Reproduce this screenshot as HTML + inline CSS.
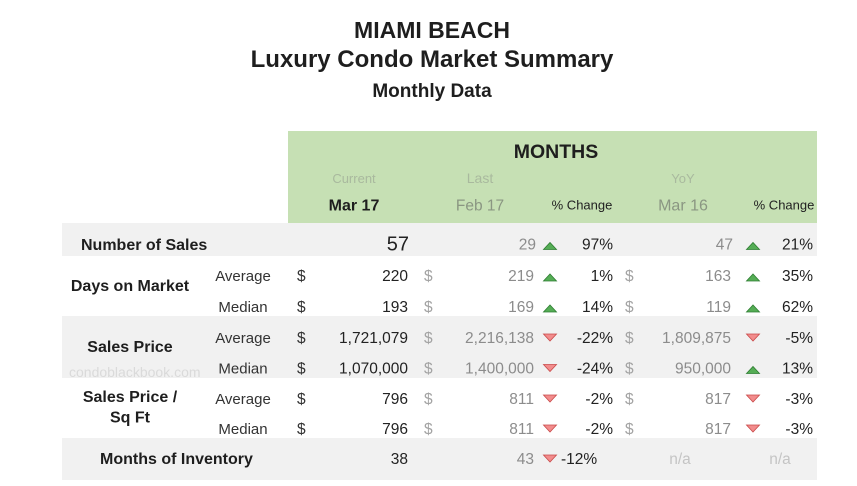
<!DOCTYPE html>
<html>
<head>
<meta charset="utf-8">
<style>
  html,body{margin:0;padding:0;background:#fff;}
  body{width:857px;height:486px;overflow:hidden;}
  svg{display:block;font-family:"Liberation Sans",Arial,sans-serif;}
  .b{font-weight:bold;fill:#1e1e1e;}
  .n{font-size:15.5px;fill:#222;}
  .g{font-size:15.5px;fill:#8c8c8c;}
  .d{font-size:15.5px;fill:#333;}
  .dg{font-size:15.5px;fill:#a3a3a3;}
  .s{font-size:15px;fill:#333;}
  .lbl{font-size:16px;font-weight:bold;fill:#1e1e1e;}
  .up{fill:#55ad55;stroke:#2e7d32;stroke-width:0.8;}
  .dn{fill:#f28c8c;stroke:#c94a4a;stroke-width:0.8;}
</style>
</head>
<body>
<svg width="857" height="486" viewBox="0 0 857 486" xmlns="http://www.w3.org/2000/svg">
  <!-- backgrounds -->
  <rect x="288" y="131" width="529" height="92" fill="#c6e0b4"/>
  <rect x="62" y="223" width="755" height="33" fill="#f1f1f1"/>
  <rect x="62" y="316" width="755" height="62" fill="#f1f1f1"/>
  <rect x="62" y="438" width="755" height="42" fill="#f1f1f1"/>

  <!-- titles -->
  <text x="432" y="38" text-anchor="middle" class="b" font-size="23">MIAMI BEACH</text>
  <text x="432" y="67" text-anchor="middle" class="b" font-size="24">Luxury Condo Market Summary</text>
  <text x="432" y="97" text-anchor="middle" class="b" font-size="19">Monthly Data</text>

  <!-- header -->
  <text x="556" y="158" text-anchor="middle" class="b" font-size="19.5">MONTHS</text>
  <text x="354" y="183" text-anchor="middle" font-size="13" fill="#a9b99e">Current</text>
  <text x="480" y="183" text-anchor="middle" font-size="14" fill="#a9b99e">Last</text>
  <text x="683" y="183" text-anchor="middle" font-size="13" fill="#a9b99e">YoY</text>
  <text x="354" y="210.5" text-anchor="middle" class="b" font-size="16">Mar 17</text>
  <text x="480" y="210.5" text-anchor="middle" font-size="15.5" fill="#8a9682">Feb 17</text>
  <text x="582" y="209.5" text-anchor="middle" font-size="13" fill="#222">% Change</text>
  <text x="683" y="210.5" text-anchor="middle" font-size="16" fill="#8a9682">Mar 16</text>
  <text x="784" y="209.5" text-anchor="middle" font-size="13" fill="#222">% Change</text>

  <!-- watermark -->
  <text x="69" y="377" font-size="14" fill="#dadada">condoblackbook.com</text>

  <!-- row labels -->
  <text x="81" y="250" class="lbl">Number of Sales</text>
  <text x="130" y="291" text-anchor="middle" class="lbl">Days on Market</text>
  <text x="130" y="352" text-anchor="middle" class="lbl">Sales Price</text>
  <text x="130" y="402" text-anchor="middle" class="lbl">Sales Price /</text>
  <text x="130" y="422.5" text-anchor="middle" class="lbl">Sq Ft</text>
  <text x="100" y="464" class="lbl">Months of Inventory</text>

  <!-- sub labels -->
  <text x="243" y="281" text-anchor="middle" class="s">Average</text>
  <text x="243" y="312" text-anchor="middle" class="s">Median</text>
  <text x="243" y="343" text-anchor="middle" class="s">Average</text>
  <text x="243" y="373.5" text-anchor="middle" class="s">Median</text>
  <text x="243" y="404" text-anchor="middle" class="s">Average</text>
  <text x="243" y="434" text-anchor="middle" class="s">Median</text>

  <!-- Row 0: Number of Sales -->
  <text x="409" y="250.5" text-anchor="end" font-size="20" fill="#222">57</text>
  <text x="536" y="249.5" text-anchor="end" class="g">29</text>
  <polygon class="up" points="543.5,249.5 556.5,249.5 550,242.5"/>
  <text x="613" y="249.5" text-anchor="end" class="n">97%</text>
  <text x="733" y="249.5" text-anchor="end" class="g">47</text>
  <polygon class="up" points="746.5,249.5 759.5,249.5 753,242.5"/>
  <text x="813" y="249.5" text-anchor="end" class="n">21%</text>

  <!-- Row 1: DOM Average -->
  <text x="297" y="281" class="d">$</text>
  <text x="408" y="281" text-anchor="end" class="n">220</text>
  <text x="424" y="281" class="dg">$</text>
  <text x="534" y="281" text-anchor="end" class="g">219</text>
  <polygon class="up" points="543.5,281 556.5,281 550,274"/>
  <text x="613" y="281" text-anchor="end" class="n">1%</text>
  <text x="625" y="281" class="dg">$</text>
  <text x="731" y="281" text-anchor="end" class="g">163</text>
  <polygon class="up" points="746.5,281 759.5,281 753,274"/>
  <text x="813" y="281" text-anchor="end" class="n">35%</text>

  <!-- Row 2: DOM Median -->
  <text x="297" y="312" class="d">$</text>
  <text x="408" y="312" text-anchor="end" class="n">193</text>
  <text x="424" y="312" class="dg">$</text>
  <text x="534" y="312" text-anchor="end" class="g">169</text>
  <polygon class="up" points="543.5,312 556.5,312 550,305"/>
  <text x="613" y="312" text-anchor="end" class="n">14%</text>
  <text x="625" y="312" class="dg">$</text>
  <text x="731" y="312" text-anchor="end" class="g">119</text>
  <polygon class="up" points="746.5,312 759.5,312 753,305"/>
  <text x="813" y="312" text-anchor="end" class="n">62%</text>

  <!-- Row 3: Sales Price Average -->
  <text x="297" y="343" class="d">$</text>
  <text x="408" y="343" text-anchor="end" class="n">1,721,079</text>
  <text x="424" y="343" class="dg">$</text>
  <text x="534" y="343" text-anchor="end" class="g">2,216,138</text>
  <polygon class="dn" points="543.5,334 556.5,334 550,341"/>
  <text x="613" y="343" text-anchor="end" class="n">-22%</text>
  <text x="625" y="343" class="dg">$</text>
  <text x="731" y="343" text-anchor="end" class="g">1,809,875</text>
  <polygon class="dn" points="746.5,334 759.5,334 753,341"/>
  <text x="813" y="343" text-anchor="end" class="n">-5%</text>

  <!-- Row 4: Sales Price Median -->
  <text x="297" y="373.5" class="d">$</text>
  <text x="408" y="373.5" text-anchor="end" class="n">1,070,000</text>
  <text x="424" y="373.5" class="dg">$</text>
  <text x="534" y="373.5" text-anchor="end" class="g">1,400,000</text>
  <polygon class="dn" points="543.5,364.5 556.5,364.5 550,371.5"/>
  <text x="613" y="373.5" text-anchor="end" class="n">-24%</text>
  <text x="625" y="373.5" class="dg">$</text>
  <text x="731" y="373.5" text-anchor="end" class="g">950,000</text>
  <polygon class="up" points="746.5,373.5 759.5,373.5 753,366.5"/>
  <text x="813" y="373.5" text-anchor="end" class="n">13%</text>

  <!-- Row 5: Price/SqFt Average -->
  <text x="297" y="404" class="d">$</text>
  <text x="408" y="404" text-anchor="end" class="n">796</text>
  <text x="424" y="404" class="dg">$</text>
  <text x="534" y="404" text-anchor="end" class="g">811</text>
  <polygon class="dn" points="543.5,395 556.5,395 550,402"/>
  <text x="613" y="404" text-anchor="end" class="n">-2%</text>
  <text x="625" y="404" class="dg">$</text>
  <text x="731" y="404" text-anchor="end" class="g">817</text>
  <polygon class="dn" points="746.5,395 759.5,395 753,402"/>
  <text x="813" y="404" text-anchor="end" class="n">-3%</text>

  <!-- Row 6: Price/SqFt Median -->
  <text x="297" y="434" class="d">$</text>
  <text x="408" y="434" text-anchor="end" class="n">796</text>
  <text x="424" y="434" class="dg">$</text>
  <text x="534" y="434" text-anchor="end" class="g">811</text>
  <polygon class="dn" points="543.5,425 556.5,425 550,432"/>
  <text x="613" y="434" text-anchor="end" class="n">-2%</text>
  <text x="625" y="434" class="dg">$</text>
  <text x="731" y="434" text-anchor="end" class="g">817</text>
  <polygon class="dn" points="746.5,425 759.5,425 753,432"/>
  <text x="813" y="434" text-anchor="end" class="n">-3%</text>

  <!-- Row 7: Months of Inventory -->
  <text x="408" y="464" text-anchor="end" class="n">38</text>
  <text x="534" y="464" text-anchor="end" class="g">43</text>
  <polygon class="dn" points="543.5,455 556.5,455 550,462"/>
  <text x="561" y="464" class="n">-12%</text>
  <text x="680" y="464" text-anchor="middle" font-size="15.5" fill="#c4c4c4">n/a</text>
  <text x="780" y="464" text-anchor="middle" font-size="15.5" fill="#c4c4c4">n/a</text>
</svg>
</body>
</html>
